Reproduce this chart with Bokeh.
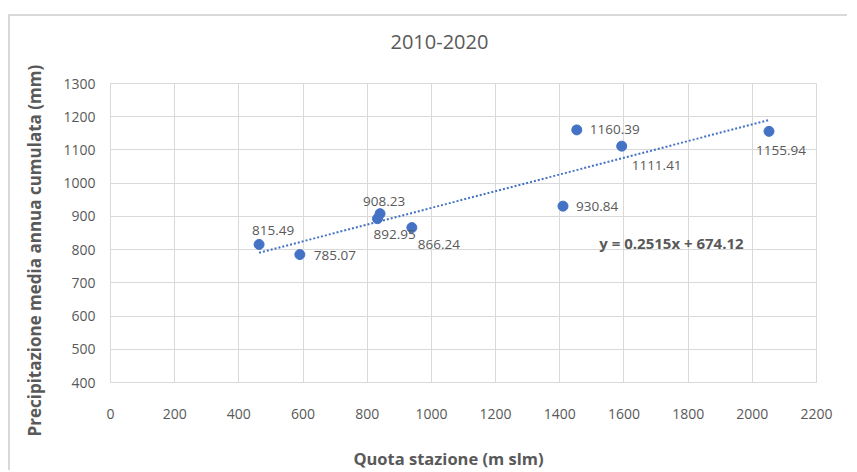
from bokeh.plotting import figure
from bokeh.models import ColumnDataSource, LabelSet, Label, FixedTicker, Range1d, LinearAxis, Title
from bokeh.embed import file_html
from bokeh.resources import INLINE
from bokeh.core.properties import value

# ---- data ----
title_text = "2010-2020"
x_label = "Quota stazione (m slm)"
y_label = "Precipitazione media annua cumulata (mm)"
quota = [463, 590, 840, 832, 939, 1410, 1453, 1593, 2052]
precip = [815.49, 785.07, 908.23, 892.95, 866.24, 930.84, 1160.39, 1111.41, 1155.94]
slope = 0.2515
intercept = 674.12
x_ticks = list(range(0, 2201, 200))
y_ticks = list(range(400, 1301, 100))

# ---- style ----
label_dx = [-7, 14, -17, -4, 6, 13, 13, 10, -13]
label_dy = [14, -1, 12, -15.5, -17, 0, 0, -19, -19]
FONT = "Open Sans"
GREY = "#595959"
BLUE = "#4472C4"
GRID = "#d9d9d9"
NBSP = "\u00a0"

p = figure(width=839, height=456, output_backend="svg", toolbar_location=None,
           x_range=Range1d(0, 2200), y_range=Range1d(400, 1300),
           min_border_left=100, min_border_right=33, min_border_top=67, min_border_bottom=88,
           background_fill_color="white", border_fill_color="white",
           outline_line_color=GRID)
p.styles = {"margin-top": "14px", "margin-left": "8px",
            "border-top": "2px solid #d9d9d9", "border-left": "2px solid #d9d9d9"}

xax = p.below[0]
yax = p.left[0]

# blank spacer axis directly above the frame (pushes the title up)
spacer = LinearAxis(ticker=FixedTicker(ticks=[x_ticks[0]]), axis_line_color=None,
                    major_tick_line_color="white", minor_tick_line_color=None,
                    major_tick_out=25, major_tick_in=0, major_label_standoff=0,
                    major_label_overrides={x_ticks[0]: ""})
p.add_layout(spacer, "above")

title = Title(text=title_text, text_font=FONT, text_font_size="20px",
              text_font_style="normal", text_color=GREY, align="left",
              offset=280, standoff=20)
p.add_layout(title, "above")

for ax in (xax, yax):
    ax.major_label_text_font = FONT
    ax.major_label_text_font_size = "14px"
    ax.major_label_text_color = GREY
    ax.axis_label_text_font = FONT
    ax.axis_label_text_font_style = "bold"
    ax.axis_label_text_color = GREY
    ax.major_tick_line_color = None
    ax.minor_tick_line_color = None
    ax.axis_line_color = GRID
    ax.major_tick_out = 0
    ax.major_tick_in = 0

xax.ticker = FixedTicker(ticks=x_ticks)
yax.ticker = FixedTicker(ticks=y_ticks)
xax.axis_label = x_label + NBSP * 7
yax.axis_label = y_label + NBSP * 8
xax.axis_label_text_font_size = "16.5px"
yax.axis_label_text_font_size = "17px"
xax.major_label_standoff = 26
xax.axis_label_standoff = 25
yax.major_label_standoff = 15
yax.axis_label_standoff = 14

p.xgrid[0].ticker = FixedTicker(ticks=x_ticks)
p.ygrid[0].ticker = FixedTicker(ticks=y_ticks)
p.grid.grid_line_color = GRID
p.grid.grid_line_width = 1

# trendline from regression coefficients
tx = [min(quota), max(quota)]
ty = [slope * v + intercept for v in tx]
p.line(tx, ty, line_color=BLUE, line_width=2, line_dash="2 2")

src = ColumnDataSource(dict(x=quota, y=precip, lab=[f"{v:.2f}" for v in precip],
                            dx=label_dx, dy=label_dy))
p.scatter("x", "y", source=src, size=10, fill_color=BLUE, line_color=BLUE)

labels = LabelSet(x="x", y="y", text="lab", source=src, x_offset="dx", y_offset="dy",
                  text_align="left", text_baseline="middle", text_font=value(FONT),
                  text_font_size="13.5px", text_color=GREY)
p.add_layout(labels)

eq = Label(x=1748, y=821, text=f"y = {slope}x + {intercept}", text_align="center",
           text_baseline="middle", text_font=FONT, text_font_size="15px",
           text_font_style="bold", text_color=GREY)
p.add_layout(eq)

open("out.html", "w").write(file_html(p, INLINE))
